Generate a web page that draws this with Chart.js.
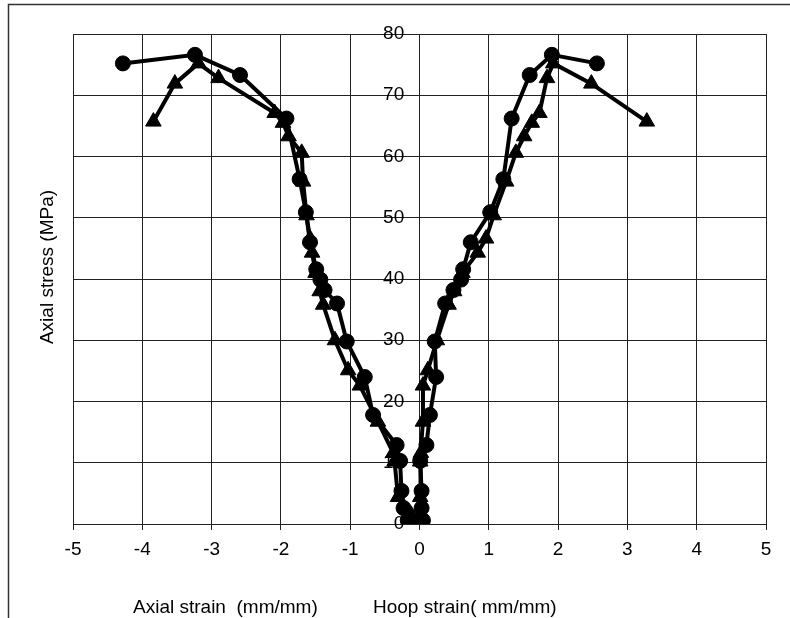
<!DOCTYPE html>
<html>
<head>
<meta charset="utf-8">
<script src="https://cdn.jsdelivr.net/npm/chart.js@4/dist/chart.umd.min.js"></script>
<style>
  html, body { margin: 0; padding: 0; background: #fff; }
  #wrap { position: relative; width: 790px; height: 618px; }
</style>
</head>
<body>
<div id="wrap"><canvas id="c" width="790" height="618"></canvas></div>
<script>
// Specimen A (circles): stress with matching axial (left, negative) and hoop (right) strains
const stressCircle = [0.0, 0.6, 2.6, 5.4, 10.3, 12.9, 17.8, 24.0, 29.8, 36.0, 38.2, 39.9, 41.6, 46.0, 50.9, 56.3, 66.2, 73.3, 76.6, 75.2];
const axialCircle  = [-0.10, -0.17, -0.23, -0.26, -0.28, -0.33, -0.67, -0.79, -1.05, -1.19, -1.37, -1.43, -1.49, -1.58, -1.64, -1.73, -1.92, -2.59, -3.24, -4.28];
const hoopCircle   = [0.02, 0.05, 0.03, 0.03, 0.01, 0.10, 0.15, 0.24, 0.22, 0.37, 0.49, 0.60, 0.63, 0.74, 1.02, 1.21, 1.33, 1.59, 1.91, 2.56];

// Specimen B (triangles)
const stressTri = [0.0, 1.5, 4.4, 10.2, 11.6, 16.7, 22.6, 25.1, 30.0, 35.8, 38.0, 41.0, 44.3, 46.6, 50.4, 55.9, 60.6, 63.3, 65.5, 67.1, 72.8, 75.2, 71.9, 65.7];
const axialTri  = [-0.05, -0.12, -0.31, -0.36, -0.38, -0.60, -0.86, -1.03, -1.22, -1.39, -1.44, -1.50, -1.55, -1.58, -1.63, -1.68, -1.70, -1.89, -1.97, -2.09, -2.90, -3.19, -3.53, -3.84];
const hoopTri   = [0.02, 0.02, 0.01, 0.01, 0.02, 0.05, 0.05, 0.12, 0.25, 0.42, 0.50, 0.62, 0.84, 0.96, 1.07, 1.25, 1.39, 1.51, 1.62, 1.73, 1.84, 1.93, 2.48, 3.28];

// Axis ticks and titles
const strainTicks = [-5, -4, -3, -2, -1, 0, 1, 2, 3, 4, 5];
const stressTicks = [0, 10, 20, 30, 40, 50, 60, 70, 80];
const axialTitle = 'Axial strain  (mm/mm)';
const hoopTitle  = 'Hoop strain( mm/mm)';
const stressTitle = 'Axial stress (MPa)';

const FONT = '"Liberation Sans", Arial, sans-serif';

function pairs(xs, ys) {
  return xs.map((x, i) => ({ x: x, y: ys[i] }));
}

function series(xs, ys, style, r) {
  return {
    data: pairs(xs, ys),
    borderColor: '#000',
    backgroundColor: '#000',
    borderWidth: 4,
    pointStyle: style,
    pointRadius: r,
    pointHoverRadius: r,
    pointBorderWidth: 1,
    pointBackgroundColor: '#000',
    pointBorderColor: '#000',
    showLine: true,
    tension: 0,
    fill: false
  };
}

// Frame and hand-placed axis titles
const decorations = {
  id: 'decorations',
  beforeDraw(chart) {
    const ctx = chart.ctx;
    ctx.save();
    ctx.strokeStyle = '#333';
    ctx.lineWidth = 1.5;
    ctx.beginPath();
    ctx.moveTo(8.5, 618);
    ctx.lineTo(8.5, 4.5);
    ctx.lineTo(790, 4.5);
    ctx.stroke();
    ctx.restore();
  },
  afterDraw(chart) {
    const ctx = chart.ctx;
    const area = chart.chartArea;
    ctx.save();
    ctx.fillStyle = '#000';
    ctx.font = '19px ' + FONT;
    ctx.textBaseline = 'middle';
    ctx.textAlign = 'left';
    ctx.fillText(axialTitle, 133, 608);
    ctx.fillText(hoopTitle, 373, 608);
    ctx.translate(48, (area.top + area.bottom) / 2 - 12);
    ctx.rotate(-Math.PI / 2);
    ctx.textAlign = 'center';
    ctx.fillText(stressTitle, 0, 0);
    ctx.restore();
  }
};

new Chart(document.getElementById('c'), {
  type: 'line',
  data: {
    datasets: [
      series(axialCircle, stressCircle, 'circle', 7.5),
      series(axialTri, stressTri, 'triangle', 9),
      series(hoopCircle, stressCircle, 'circle', 7.5),
      series(hoopTri, stressTri, 'triangle', 9)
    ]
  },
  options: {
    responsive: false,
    animation: false,
    events: [],
    layout: { padding: { left: 73, right: 24, top: 34, bottom: 0 } },
    plugins: { legend: { display: false }, tooltip: { enabled: false } },
    scales: {
      x: {
        type: 'linear',
        position: 'bottom',
        min: -5, max: 5,
        afterBuildTicks(scale) { scale.ticks = strainTicks.map(v => ({ value: v })); },
        afterFit(scale) { scale.height = 94; },
        grid: { color: '#222', lineWidth: 1, drawTicks: true, tickLength: 6, tickColor: '#222' },
        border: { display: true, color: '#222', width: 1 },
        ticks: { color: '#000', padding: 8, font: { family: FONT, size: 19 }, maxRotation: 0 }
      },
      y: {
        type: 'linear',
        // tick labels sit just left of the zero-strain line
        position: { x: -0.22 },
        min: 0, max: 80,
        afterBuildTicks(scale) { scale.ticks = stressTicks.map(v => ({ value: v })); },
        grid: { color: '#222', lineWidth: 1, drawTicks: false },
        border: { display: false },
        ticks: { color: '#000', padding: 0, font: { family: FONT, size: 19 } }
      }
    }
  },
  plugins: [decorations]
});
</script>
</body>
</html>
